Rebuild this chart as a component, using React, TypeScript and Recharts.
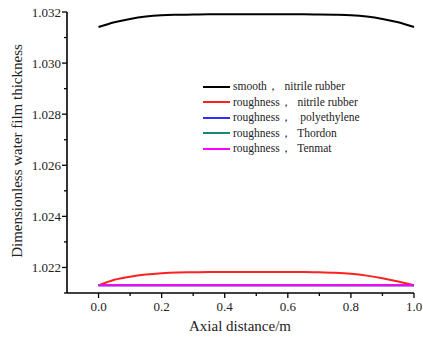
import { LineChart, Line, XAxis, YAxis } from 'recharts'

// axial position (m)
const axial = [0, 0.05, 0.1, 0.15, 0.2, 0.25, 0.3, 0.35, 0.4, 0.45, 0.5, 0.55, 0.6, 0.65, 0.7, 0.75, 0.8, 0.85, 0.9, 0.95, 1.0]

const smoothNitrile = [1.03141, 1.0316, 1.03173, 1.03182, 1.03187, 1.03189, 1.0319, 1.03191, 1.03191, 1.03191, 1.03191, 1.03191, 1.03191, 1.03191, 1.0319, 1.03189, 1.03187, 1.03182, 1.03173, 1.0316, 1.03141]
const roughNitrile = [1.0213, 1.02152, 1.02164, 1.02172, 1.02177, 1.0218, 1.02181, 1.02182, 1.02182, 1.02182, 1.02182, 1.02182, 1.02182, 1.02182, 1.02181, 1.02179, 1.02175, 1.02168, 1.02158, 1.02145, 1.0213]
const roughPolyethylene = [1.0213, 1.0213, 1.0213, 1.0213, 1.0213, 1.0213, 1.0213, 1.0213, 1.0213, 1.0213, 1.0213, 1.0213, 1.0213, 1.0213, 1.0213, 1.0213, 1.0213, 1.0213, 1.0213, 1.0213, 1.0213]
const roughThordon = [1.0213, 1.0213, 1.0213, 1.0213, 1.0213, 1.0213, 1.0213, 1.0213, 1.0213, 1.0213, 1.0213, 1.0213, 1.0213, 1.0213, 1.0213, 1.0213, 1.0213, 1.0213, 1.0213, 1.0213, 1.0213]
const roughTenmat = [1.0213, 1.0213, 1.0213, 1.0213, 1.0213, 1.0213, 1.0213, 1.0213, 1.0213, 1.0213, 1.0213, 1.0213, 1.0213, 1.0213, 1.0213, 1.0213, 1.0213, 1.0213, 1.0213, 1.0213, 1.0213]

const xTicks = [0, 0.1, 0.2, 0.3, 0.4, 0.5, 0.6, 0.7, 0.8, 0.9, 1.0]
const yTicks = [1.021, 1.022, 1.023, 1.024, 1.025, 1.026, 1.027, 1.028, 1.029, 1.03, 1.031, 1.032]

const series = [
  { key: 'smooth', name: 'smooth，  nitrile rubber', color: '#000000', values: smoothNitrile },
  { key: 'nitrile', name: 'roughness，  nitrile rubber', color: '#ff2020', values: roughNitrile },
  { key: 'poly', name: 'roughness，   polyethylene', color: '#2f2fff', values: roughPolyethylene },
  { key: 'thordon', name: 'roughness，  Thordon', color: '#15897a', values: roughThordon },
  { key: 'tenmat', name: 'roughness，  Tenmat', color: '#ff00ff', values: roughTenmat },
]

const data = axial.map((x, i) => {
  const row: Record<string, number> = { x }
  series.forEach((s) => { row[s.key] = s.values[i] })
  return row
})

const font = '"Liberation Serif", "Times New Roman", serif'

function XTick(props: any) {
  const { x, y, payload } = props
  const v = payload.value
  const major = Math.round(v * 10) % 2 === 0
  return (
    <g>
      <line x1={x} x2={x} y1={y} y2={y + (major ? 5 : 3)} stroke="#000" strokeWidth={1.3} />
      {major && (
        <text x={x} y={y + 18} textAnchor="middle" fontSize={13} fontFamily={font} fill="#222">
          {v.toFixed(1)}
        </text>
      )}
    </g>
  )
}

function YTick(props: any) {
  const { x, y, payload } = props
  const v = payload.value
  const major = Math.round(v * 1000) % 2 === 0
  return (
    <g>
      <line x1={x} x2={x - (major ? 5 : 3)} y1={y} y2={y} stroke="#000" strokeWidth={1.3} />
      {major && (
        <text x={x - 6} y={y + 4.5} textAnchor="end" fontSize={13} fontFamily={font} fill="#222">
          {v.toFixed(3)}
        </text>
      )}
    </g>
  )
}

function LegendBox() {
  return (
    <div style={{ position: 'absolute', left: 203, top: 79, fontFamily: font, fontSize: 11.5, color: '#222', lineHeight: '15.5px' }}>
      {series.map((s) => (
        <div key={s.key} style={{ display: 'flex', alignItems: 'center', whiteSpace: 'pre' }}>
          <span style={{ display: 'inline-block', width: 27, height: 1.6, background: s.color, marginRight: 3 }} />
          {s.name}
        </div>
      ))}
    </div>
  )
}

export default function App() {
  return (
    <div style={{ position: 'absolute', left: 0, top: 0, width: 423, height: 342, background: '#fff' }}>
      <LineChart width={423} height={342} data={data} margin={{ top: 12, right: 9, left: 0, bottom: 0 }}>
        <XAxis
          dataKey="x"
          type="number"
          domain={[-0.1, 1.0]}
          ticks={xTicks}
          tick={<XTick />}
          tickLine={false}
          tickSize={0}
          tickMargin={0}
          height={49}
          interval={0}
          axisLine={{ stroke: '#000', strokeWidth: 1.6 }}
          label={() => (
            <text x={240} y={331} textAnchor="middle" fontSize={15} fontFamily={font} fill="#222">
              Axial distance/m
            </text>
          )}
        />
        <YAxis
          type="number"
          domain={[1.021, 1.032]}
          ticks={yTicks}
          tick={<YTick />}
          tickLine={false}
          tickSize={0}
          tickMargin={0}
          width={67}
          interval={0}
          allowDataOverflow
          axisLine={{ stroke: '#000', strokeWidth: 1.6 }}
          label={() => (
            <text x={22} y={151} transform="rotate(-90 22 151)" textAnchor="middle" fontSize={15} fontFamily={font} fill="#222">
              Dimensionless water film thickness
            </text>
          )}
        />
        {series.map((s) => (
          <Line
            key={s.key}
            dataKey={s.key}
            name={s.name}
            stroke={s.color}
            strokeWidth={2}
            dot={false}
            type="monotone"
            isAnimationActive={false}
          />
        ))}
      </LineChart>
      <LegendBox />
    </div>
  )
}
